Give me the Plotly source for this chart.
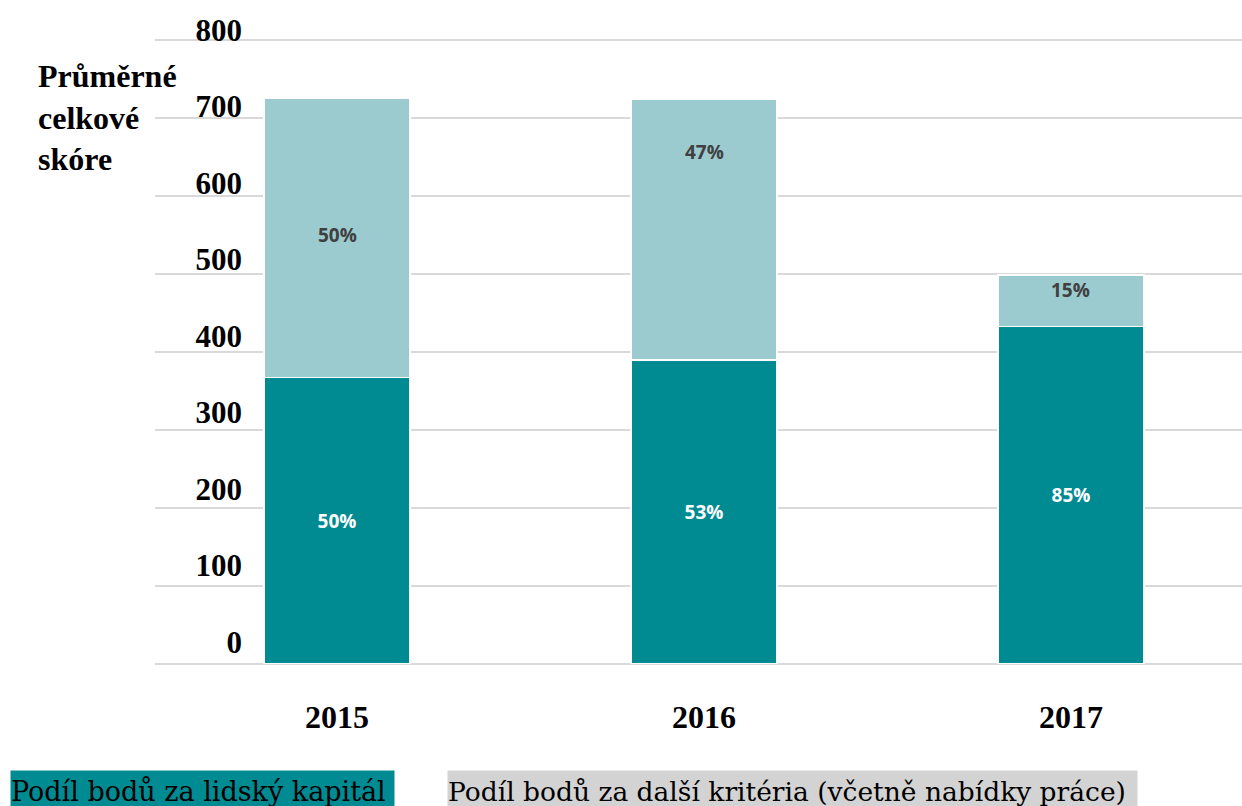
import plotly.graph_objects as go

years = ["2015", "2016", "2017"]
human_capital = [367, 390, 433]
other_criteria = [358, 334, 66]
human_pct = ["50%", "53%", "85%"]
other_pct = ["50%", "47%", "15%"]
y_ticks = [0, 100, 200, 300, 400, 500, 600, 700, 800]
y_title_lines = ["Průměrné", "celkové", "skóre"]
legend_labels = ["Podíl bodů za lidský kapitál",
                 "Podíl bodů za další kritéria (včetně nabídky práce)"]

TEAL = "#008B93"
LIGHT = "#9BCBCE"
W, H = 1242, 806
ML, MR, MT, MB = 155, 0, 20, 142
PW = W - ML - MR
PH = H - MT - MB


def px_x(px):
    return (px - ML) / PW


def px_y(py):
    return (H - MB - py) / PH


LABEL_FONT = dict(family="Open Sans", size=19, weight="bold")

fig = go.Figure()
fig.add_trace(go.Bar(
    x=years, y=human_capital, name=legend_labels[0],
    marker=dict(color=TEAL, line=dict(color="white", width=1.2)),
    width=0.398, text=human_pct, textposition="inside",
    insidetextanchor="middle",
    textfont=dict(LABEL_FONT, color="white"),
    showlegend=False,
))
fig.add_trace(go.Bar(
    x=years, y=other_criteria, name=legend_labels[1],
    marker=dict(color=LIGHT, line=dict(color="white", width=1.2)),
    width=0.398, showlegend=False,
))
# invisible trace to drive the tick-label axis
fig.add_trace(go.Scatter(x=years, y=[None] * 3, yaxis="y2", showlegend=False,
                         hoverinfo="skip"))

annotations = []
# labels of the upper segments (placed as in the original, not always centred)
label_shift = [3, 78, 11]
for i, (base, val, txt, sh) in enumerate(zip(human_capital, other_criteria,
                                             other_pct, label_shift)):
    annotations.append(dict(
        text=txt, x=i, y=base + val / 2, xref="x", yref="y",
        yshift=sh, showarrow=False,
        font=dict(LABEL_FONT, color="#404040"),
    ))

for line, py in zip(y_title_lines, [76, 117.5, 159]):
    annotations.append(dict(
        text=line, xref="paper", yref="paper", x=px_x(36), y=px_y(py),
        xanchor="left", yanchor="middle", showarrow=False,
        font=dict(family="Liberation Serif", size=32, color="black", weight="bold"),
    ))

annotations.append(dict(
    text=legend_labels[0], xref="paper", yref="paper",
    x=px_x(10), y=px_y(770), xanchor="left", yanchor="top",
    width=383, height=40, align="left", valign="middle", borderpad=0,
    bgcolor=TEAL, showarrow=False,
    font=dict(family="DejaVu Serif", size=27, color="black"),
))
annotations.append(dict(
    text=legend_labels[1], xref="paper", yref="paper",
    x=px_x(447), y=px_y(770), xanchor="left", yanchor="top",
    width=689, height=40, align="left", valign="middle", borderpad=0,
    bgcolor="#D3D3D3", showarrow=False,
    font=dict(family="DejaVu Serif", size=26.5, color="black"),
))

fig.update_layout(
    width=W, height=H,
    margin=dict(l=ML, r=MR, t=MT, b=MB, pad=0),
    paper_bgcolor="white", plot_bgcolor="white",
    barmode="stack",
    xaxis=dict(
        type="category", range=[-0.496, 2.466],
        showgrid=False, showline=False, zeroline=False, ticks="",
        tickfont=dict(family="Liberation Serif", size=32, color="black", weight="bold"),
        ticklabelstandoff=31,
    ),
    yaxis=dict(
        range=[0, PH / 0.7797], tickvals=y_ticks, showticklabels=False,
        showgrid=True, gridcolor="#D9D9D9", gridwidth=2,
        zeroline=True, zerolinecolor="#D9D9D9", zerolinewidth=2,
        showline=False, ticks="",
    ),
    yaxis2=dict(
        overlaying="y", anchor="free", position=px_x(245), side="left",
        range=[-28.8, 813], tickvals=y_ticks, showgrid=False, zeroline=False,
        showline=False, ticks="",
        tickfont=dict(family="Liberation Serif", size=31, color="black", weight="bold"),
        ticklabelstandoff=3,
    ),
    annotations=annotations,
    bargap=0.6,
)

fig.write_html("out.html")
